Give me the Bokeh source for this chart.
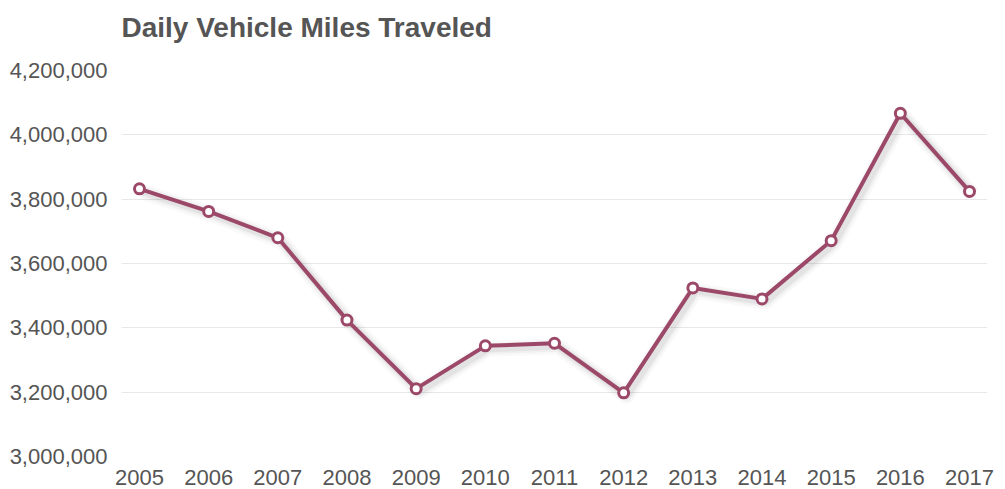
from bokeh.plotting import figure
from bokeh.models import FixedTicker, NumeralTickFormatter, Range1d
from bokeh.embed import file_html
from bokeh.resources import INLINE

years = [2005, 2006, 2007, 2008, 2009, 2010, 2011, 2012, 2013, 2014, 2015, 2016, 2017]
miles = [3832000, 3762000, 3680000, 3424000, 3211000, 3344000, 3352000, 3198000,
         3524000, 3490000, 3671000, 4067000, 3824000]
y_ticks = [3000000, 3200000, 3400000, 3600000, 3800000, 4000000, 4200000]
title_text = "Daily Vehicle Miles Traveled"

LINE = "#9c4868"
GREY = "#555555"
FONT = "Liberation Sans"

p = figure(width=1000, height=489, output_backend="svg", toolbar_location=None,
           x_range=Range1d(2004.74, 2017.26), y_range=Range1d(3000000, 4200000),
           min_border_left=121, min_border_right=13, min_border_top=70, min_border_bottom=33)
p.outline_line_color = None
p.background_fill_color = "white"
p.border_fill_color = "white"

p.title.text = title_text + "\n "
p.title.text_font = FONT
p.title.text_font_size = "28px"
p.title.text_font_style = "bold"
p.title.text_color = GREY
p.title.align = "left"
p.title.text_line_height = 0.9
p.title.standoff = 0

p.xgrid.grid_line_color = None
p.ygrid.grid_line_color = "#e8e8e8"
p.ygrid.grid_line_width = 1

for ax in (p.xaxis[0], p.yaxis[0]):
    ax.axis_line_color = None
    ax.major_tick_line_color = None
    ax.minor_tick_line_color = None
    ax.major_label_text_font = FONT
    ax.major_label_text_font_size = "22px"
    ax.major_label_text_color = GREY

p.xaxis[0].ticker = FixedTicker(ticks=years)
p.xaxis[0].major_label_standoff = 7
p.yaxis[0].ticker = FixedTicker(ticks=y_ticks)
p.yaxis[0].formatter = NumeralTickFormatter(format="0,0")
p.yaxis[0].major_label_standoff = 8

# soft shadow under the line
dx = 0.045
dy = 9000
sx = [x + dx for x in years]
sy = [y - dy for y in miles]
for w, a in [(16, 0.025), (11, 0.035), (7, 0.05)]:
    p.line(sx, sy, line_width=w, line_color="black", line_alpha=a, line_join="round")

p.line(years, miles, line_width=4, line_color=LINE, line_join="round")
p.scatter(years, miles, size=10, fill_color="white", line_color=LINE, line_width=3)

open("out.html", "w").write(file_html(p, INLINE))
